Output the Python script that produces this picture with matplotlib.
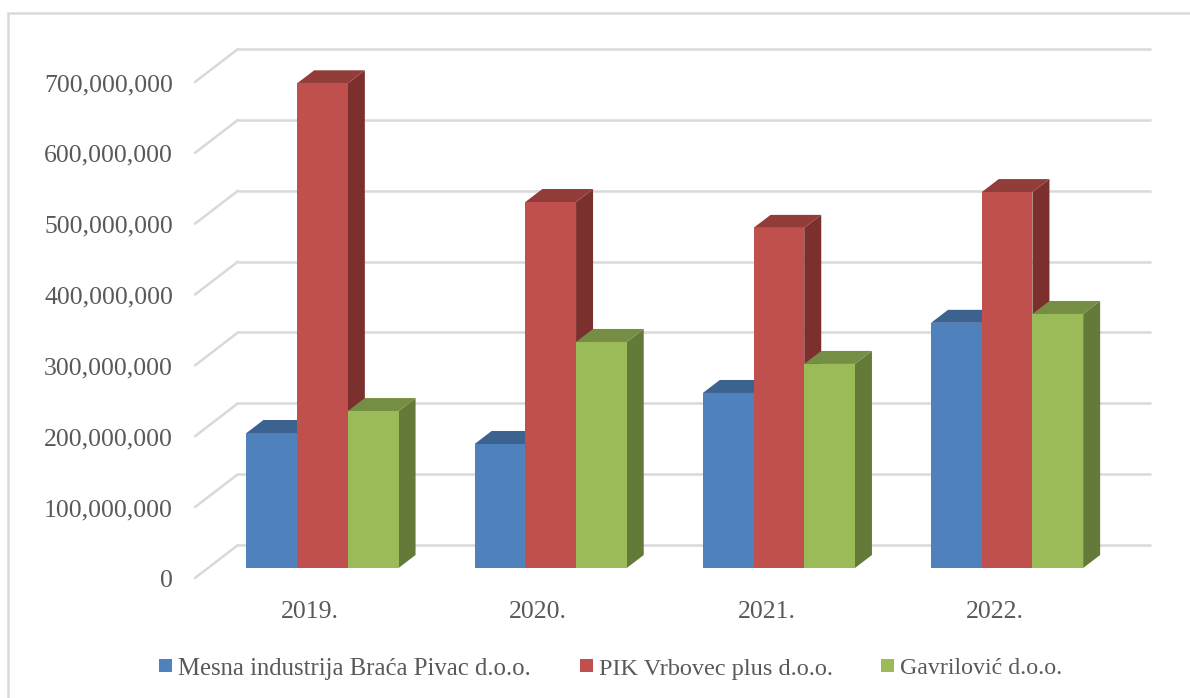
import matplotlib
matplotlib.use("Agg")
import matplotlib.pyplot as plt
from matplotlib.patches import Polygon, Rectangle


YEARS = ["2019.", "2020.", "2021.", "2022."]
SERIES_NAMES = [
    "Mesna industrija Braća Pivac d.o.o.",
    "PIK Vrbovec plus d.o.o.",
    "Gavrilović d.o.o.",
]
PIVAC = [190.5e6, 175e6, 247e6, 346e6]
VRBOVEC = [684e6, 516.5e6, 480e6, 530.5e6]
GAVRILOVIC = [221.5e6, 319e6, 288e6, 358.5e6]
Y_TICKS = [0, 100e6, 200e6, 300e6, 400e6, 500e6, 600e6, 700e6]

FRONT_COLORS = ["#4f81bd", "#c0504d", "#9bbb59"]
TOP_COLORS = ["#3c6290", "#933d3b", "#768e44"]
SIDE_COLORS = ["#3c6290", "#7c302e", "#647a38"]

WIDTH, HEIGHT = 1190, 698
GROUP_PX = 228.2
PX_PER_UNIT = 70.86 / 100e6


def dx(px):
    return px / GROUP_PX


def dy(px):
    return px / PX_PER_UNIT


fig = plt.figure(figsize=(WIDTH / 100, HEIGHT / 100), dpi=100)
ax = fig.add_axes([0, 0, 1, 1])
# axes fill the figure, limits chosen so one group = 228.2 px and 100M = 70.86 px
ax.set_xlim(-322.5 / GROUP_PX, (WIDTH - 322.5) / GROUP_PX)
ax.set_ylim(-(HEIGHT - 568) / PX_PER_UNIT, 568 / PX_PER_UNIT)
ax.axis("off")

plt.rcParams["font.family"] = ["Liberation Serif", "DejaVu Serif"]
TEXT_COLOR = "#595959"
GRID_COLOR = "#d9d9d9"

# chart frame, only left and top are visible in the crop
frame_left = dx(8 - 322.5)
frame_top = dy(568 - 13)
ax.plot([frame_left, frame_left, dx(WIDTH - 322.5)], [dy(568 - HEIGHT), frame_top, frame_top],
        color=GRID_COLOR, lw=1.8, zorder=1, solid_joinstyle="miter")

# gridlines on the back wall and the slanted floor edge
for tick in Y_TICKS:
    back_y = tick + dy(23)
    x_left = dx(238 - 322.5)
    x_right = dx(1151 - 322.5)
    ax.plot([x_left, x_right], [back_y, back_y], color=GRID_COLOR, lw=1.8, zorder=2,
            solid_capstyle="butt")
    ax.plot([dx(195 - 322.5), x_left], [tick - dy(10), back_y], color=GRID_COLOR, lw=1.8,
            zorder=2, solid_capstyle="round")
    ax.text(dx(173 - 322.5), tick - dy(10.5), f"{int(tick):,}", ha="right", va="center_baseline",
            fontsize=18.5, color=TEXT_COLOR, zorder=5)

bar_w = dx(50.7)
depth_x = dx(17)
depth_y = dy(13)

# later series overlap the side faces of the earlier ones
for group, year in enumerate(YEARS):
    for s, values in enumerate([PIVAC, VRBOVEC, GAVRILOVIC]):
        left = group + (s - 1.5) * bar_w
        right = left + bar_w
        top = values[group]
        z = 3 + s * 0.1
        ax.add_patch(Polygon([(right, 0), (right + depth_x, depth_y),
                              (right + depth_x, top + depth_y), (right, top)],
                             closed=True, facecolor=SIDE_COLORS[s], edgecolor="none", zorder=z))
        ax.add_patch(Polygon([(left, top), (left + depth_x, top + depth_y),
                              (right + depth_x, top + depth_y), (right, top)],
                             closed=True, facecolor=TOP_COLORS[s], edgecolor="none", zorder=z))
        ax.add_patch(Rectangle((left, 0), bar_w, top, facecolor=FRONT_COLORS[s],
                               edgecolor="none", zorder=z + 0.05))
    # year labels sit a bit left of the bars, centred on the floor
    ax.text(group - dx(12.5), dy(-41), year, ha="center", va="center_baseline", fontsize=18.5,
            color=TEXT_COLOR, zorder=5)

# legend, positioned by hand like the original
legend_x = [159, 580, 881]
legend_size = [17.8, 17.5, 17.2]
for px, name, color, size in zip(legend_x, SERIES_NAMES, FRONT_COLORS, legend_size):
    ax.add_patch(Rectangle((dx(px - 322.5), dy(568 - 672)), dx(13), dy(13),
                           facecolor=color, edgecolor="none", zorder=5))
    ax.text(dx(px + 19 - 322.5), dy(568 - 666.5), name, ha="left", va="center_baseline",
            fontsize=size, color=TEXT_COLOR, zorder=5)

fig.savefig("out.png", dpi=100, facecolor="white")
